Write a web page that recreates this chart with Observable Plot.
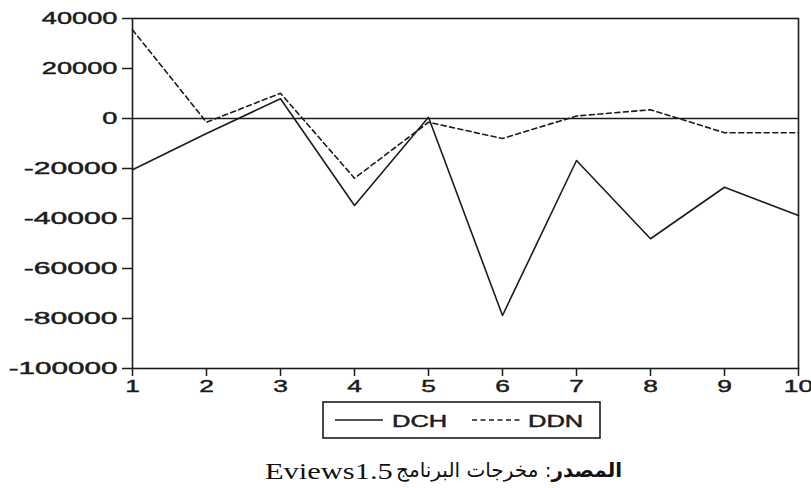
<!DOCTYPE html>
<html>
<head>
<meta charset="utf-8">
<script src="https://cdn.jsdelivr.net/npm/d3@7"></script>
<script src="https://cdn.jsdelivr.net/npm/@observablehq/plot@0.6"></script>
<style>
  body { margin: 0; background: #fff; }
  #wrap { position: relative; width: 811px; height: 488px; overflow: hidden; background: #fff; }
  #chart { position: absolute; left: 0; top: 0; }
  #legend { position: absolute; left: 322px; top: 401px; }
  .cap { position: absolute; white-space: nowrap; color: #111; line-height: 30px; }
  #capLatin {
    left: 265px; top: 456px;
    font-family: "Liberation Serif", "Times New Roman", serif; font-size: 24px;
    transform: scaleX(1.27); transform-origin: left center;
  }
  #capArabic {
    right: 189px; top: 455px; direction: rtl;
    font-family: "DejaVu Sans", serif; font-size: 20px;
  }
  .tick-text { stroke: #1c1c1c; stroke-width: 0.45px; paint-order: stroke; }
</style>
</head>
<body>
<div id="wrap">
  <div id="chart"></div>
  <svg id="legend" width="282" height="40"></svg>
  <div id="capArabic" class="cap"><b>المصدر</b>: مخرجات البرنامج</div>
  <div id="capLatin" class="cap">Eviews1.5</div>
</div>
<script>
// Periods on the horizontal axis
const periods = [1, 2, 3, 4, 5, 6, 7, 8, 9, 10];
// Series values
const dch = [-20500, -6000, 7900, -34800, 500, -78800, -16800, -48100, -27500, -38800];
const ddn = [35500, -1500, 10100, -23900, -1500, -8000, 1000, 3500, -5700, -5700];
// Tick values
const yTicks = [40000, 20000, 0, -20000, -40000, -60000, -80000, -100000];
const xTicks = periods;
// Legend entries
const seriesNames = ["DCH", "DDN"];

const ink = "#1c1c1c";
const dash = "5,3.5";

const rows = periods.map((p, i) => ({period: p, dch: dch[i], ddn: ddn[i]}));

const chart = Plot.plot({
  width: 811,
  height: 398,
  marginLeft: 132,
  marginRight: 13,
  marginTop: 18,
  marginBottom: 30,
  x: {domain: [1, 10]},
  y: {domain: [-100000, 40000]},
  style: {
    fontFamily: "'Liberation Sans', Arial, sans-serif",
    fontSize: "17px",
    color: ink,
    background: "transparent",
    overflow: "visible"
  },
  marks: [
    Plot.ruleY([0], {stroke: ink, strokeWidth: 1.3}),
    Plot.line(rows, {x: "period", y: "dch", stroke: ink, strokeWidth: 1.6}),
    Plot.line(rows, {x: "period", y: "ddn", stroke: ink, strokeWidth: 1.6, strokeDasharray: dash}),
    Plot.frame({stroke: ink, strokeWidth: 1.6}),
    Plot.axisY({ticks: yTicks, tickSize: 10, tickPadding: 5, strokeWidth: 1.5,
                tickFormat: d => String(d), label: null}),
    Plot.axisX({ticks: xTicks, tickSize: 8, tickPadding: 3, strokeWidth: 1.5,
                tickFormat: d => String(d), label: null})
  ]
});
document.getElementById("chart").appendChild(chart);

// Widen the tick labels horizontally, as the chart's type is drawn broad
function widen(selection, k, extra = () => 0) {
  selection.each(function () {
    const w = this.getComputedTextLength();
    this.setAttribute("textLength", w * k + extra(this.textContent));
    this.setAttribute("lengthAdjust", "spacingAndGlyphs");
    this.classList.add("tick-text");
  });
}
// negative labels carry a broader minus sign
widen(d3.select(chart).selectAll('g[aria-label="y-axis tick label"] text'), 1.6,
      s => s.startsWith("-") ? 9 : 0);
widen(d3.select(chart).selectAll('g[aria-label="x-axis tick label"] text'), 1.55);

// Legend box
const lg = d3.select("#legend");
lg.append("rect").attr("x", 1).attr("y", 1).attr("width", 277).attr("height", 36)
  .attr("fill", "#fff").attr("stroke", ink).attr("stroke-width", 1.6);
const entries = [
  {name: seriesNames[0], x0: 13, x1: 61, tx: 70, dash: null},
  {name: seriesNames[1], x0: 150, x1: 201, tx: 206, dash: dash}
];
for (const e of entries) {
  lg.append("line").attr("x1", e.x0).attr("x2", e.x1).attr("y1", 19).attr("y2", 19)
    .attr("stroke", ink).attr("stroke-width", 1.5)
    .attr("stroke-dasharray", e.dash);
  lg.append("text").attr("x", e.tx).attr("y", 25.5).text(e.name)
    .attr("font-family", "'Liberation Sans', Arial, sans-serif").attr("font-size", 17)
    .attr("fill", ink);
}
widen(lg.selectAll("text"), 1.5);
</script>
</body>
</html>
